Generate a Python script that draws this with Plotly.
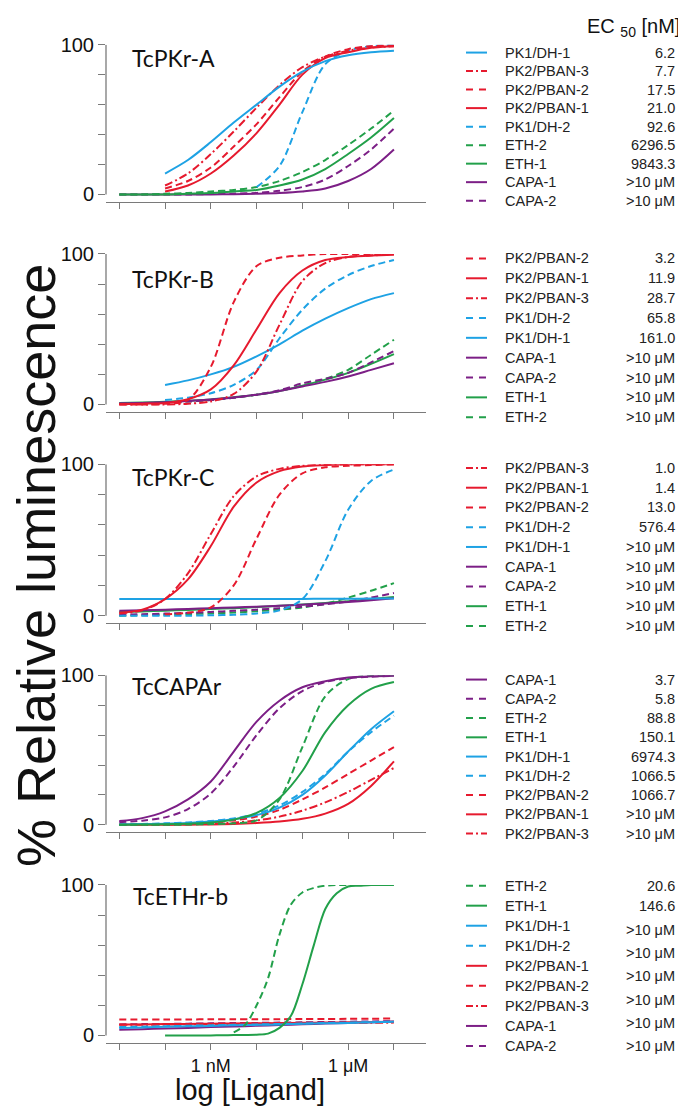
import plotly.graph_objects as go

# page body has an 8px margin: the figure is placed at (8, 8) in the window
PAGE_W, PAGE_H = 686, 1118
OFF = 8
W, H = PAGE_W - OFF, PAGE_H - OFF

# ---------------- data ----------------
log_conc = [-11, -10.5, -10, -9.5, -9, -8.5, -8, -7.5, -7, -6.5, -6, -5.5, -5]
log_conc_fine = [-10, -9.75, -9.5, -9.25, -9, -8.75, -8.5, -8.25, -8, -7.75, -7.5,
                 -7.25, -7, -6.75, -6.5, -6.25, -6, -5.75, -5.5, -5.25, -5]
N = None

tcpkr_a = {
    "PK1/DH-1":   [N, N, 14, 23, 35, 48, 60, 72, 82, 89, 93, 95, 96],
    "PK2/PBAN-3": [N, N, 6, 14, 27, 42, 58, 73, 85, 92, 96, 98, 99],
    "PK2/PBAN-2": [N, N, 4, 9, 18, 32, 47, 65, 82, 92, 97, 99, 99.5],
    "PK2/PBAN-1": [N, N, 2, 6, 14, 26, 41, 60, 80, 91, 95, 98, 99],
    "PK1/DH-2":   [N, N, N, N, N, N, 5, 19, 55, 87, 96, 99, 100],
    "ETH-2":      [0, 0, 0.5, 1, 2, 3, 5, 9, 15, 23, 33, 44, 56],
    "ETH-1":      [0, 0, 0, 0.5, 1, 2, 3, 6, 10, 17, 27, 38, 51],
    "CAPA-1":     [0, 0, 0, 0, 0, 0.2, 0.5, 1, 2, 4, 9, 17, 30],
    "CAPA-2":     [0, 0, 0, 0, 0.3, 0.6, 1, 2.5, 5, 10, 19, 30, 44],
}
tcpkr_a_ec50 = ["6.2", "7.7", "17.5", "21.0", "92.6", "6296.5", "9843.3", ">10 μM", ">10 μM"]

tcpkr_b = {
    "PK2/PBAN-2": [0, 0, 0.5, 3, 25, 68, 92, 97.5, 99, 100, 100, 100, 100],
    "PK2/PBAN-1": [0.3, 0.5, 1, 3.5, 10, 26, 50, 74, 89, 96, 98, 99, 99.5],
    "PK2/PBAN-3": [0, 0, 0, 0.5, 2, 7, 22, 53, 82, 94, 98, 99, 100],
    "PK1/DH-2":   [N, N, 3, 4.5, 7.5, 13, 23, 44, 63, 77, 86, 92, 96],
    "PK1/DH-1":   [N, N, 13, 16, 20, 25, 32, 40, 49, 57, 64, 70, 74],
    "CAPA-1":     [0.7, 1, 1.5, 2.3, 3.3, 4.7, 6.5, 9, 12, 15, 18.6, 23, 27.4],
    "CAPA-2":     [0.5, 0.8, 1.2, 2, 3, 4.5, 6.5, 9.5, 14, 17, 21, 28, 35.5],
    "ETH-1":      [1, 1.3, 1.8, 2.5, 3.3, 4.8, 6.5, 9, 12.5, 16.5, 21, 27, 33.5],
    "ETH-2":      [0.5, 0.8, 1.2, 2, 3, 4.5, 6.5, 9, 12.5, 17, 23, 33, 43],
}
tcpkr_b_ec50 = ["3.2", "11.9", "28.7", "65.8", "161.0", ">10 μM", ">10 μM", ">10 μM", ">10 μM"]

tcpkr_c = {
    "PK2/PBAN-3": [1.5, 3.5, 11, 28, 54, 79, 92, 97, 99, 99.7, 100, 100, 100],
    "PK2/PBAN-1": [2, 4, 11, 24, 46, 72, 88, 95.5, 98.5, 99.5, 100, 100, 100],
    "PK2/PBAN-2": [N, N, 1, 2, 5.5, 20, 51, 80, 94, 98, 99, 99.5, 100],
    "PK1/DH-2":   [0, 0, 0, 0, 0.3, 0.6, 1.5, 3.5, 11, 36, 70, 89, 96.5],
    "PK1/DH-1":   [11, 11, 11, 11, 11, 11, 11, 11.1, 11.1, 11.2, 11.2, 11.3, 11.4],
    "CAPA-1":     [3.3, 3.6, 4, 4.4, 5, 5.5, 6, 6.6, 7.3, 8.1, 9, 10.2, 11.6],
    "CAPA-2":     [0.7, 1, 1.4, 1.9, 2.5, 3.2, 4, 5, 6, 7.5, 9.4, 12, 15],
    "ETH-1":      [2.4, 2.8, 3.3, 3.8, 4.4, 5, 5.7, 6.5, 7.4, 8.4, 9.6, 11, 12.3],
    "ETH-2":      [0, 0.3, 0.6, 1, 1.5, 2.1, 3, 4, 5.5, 8, 12, 16.5, 21.5],
}
tcpkr_c_ec50 = ["1.0", "1.4", "13.0", "576.4", ">10 μM", ">10 μM", ">10 μM", ">10 μM", ">10 μM"]

tccapar = {
    "CAPA-1":     [2.5, 4.5, 9, 17, 29, 49, 69, 83, 92, 96, 98.5, 99.3, 99.7],
    "CAPA-2":     [1.8, 2.8, 5, 10.5, 21, 39, 60, 78, 89.5, 95.5, 98, 99.1, 99.6],
    "ETH-2":      [0, 0, 0, 0.2, 0.5, 1, 3, 17, 52, 86, 97.5, 99.5, 100],
    "ETH-1":      [0, 0.2, 0.4, 0.8, 1.5, 3.5, 8, 18, 36, 62, 80, 91, 95.5],
    "PK1/DH-1":   [0.3, 0.5, 0.8, 1.3, 2.2, 3.8, 6.5, 11.5, 20, 33, 49, 64, 76],
    "PK1/DH-2":   [0.3, 0.6, 1, 1.6, 2.6, 4.3, 7.5, 13, 22, 34, 49, 62, 73],
    "PK2/PBAN-2": [0, 0.2, 0.4, 0.8, 1.5, 3, 5.5, 10, 17, 25, 34, 43, 52],
    "PK2/PBAN-1": [0, 0, 0, 0.1, 0.3, 0.6, 1.2, 2.2, 4, 7.5, 14, 26, 42.5],
    "PK2/PBAN-3": [0, 0.1, 0.2, 0.4, 0.8, 1.5, 3, 5.5, 9.5, 15, 22, 30, 38],
}
tccapar_ec50 = ["3.7", "5.8", "88.8", "150.1", "6974.3", "1066.5", "1066.7", ">10 μM", ">10 μM"]

tcethr_b_fine = {
    "ETH-2": [N, N, N, N, N, N, 2, 7, 20, 38, 67, 87, 95, 98, 99.5, 100, 100, 100, 100, 100, 100],
    "ETH-1": [0, 0, 0, 0, 0, 0.1, 0.2, 0.3, 0.5, 1.2, 5, 13, 34, 60, 84, 94.5, 99, 99.5, 100, 100, 100],
}
tcethr_b = {
    "PK1/DH-1":   [5, 5.3, 5.7, 6, 6.3, 6.7, 7, 7.3, 7.7, 8, 8.3, 8.7, 9],
    "PK1/DH-2":   [5.5, 5.8, 6.1, 6.4, 6.7, 7, 7.3, 7.6, 7.9, 8.2, 8.5, 8.8, 9.1],
    "PK2/PBAN-1": [7.2, 7.3, 7.5, 7.6, 7.8, 7.9, 8.1, 8.2, 8.4, 8.5, 8.7, 8.8, 9],
    "PK2/PBAN-2": [10.5, 10.5, 10.6, 10.6, 10.7, 10.7, 10.8, 10.8, 10.9, 10.9, 11, 11.1, 11.2],
    "PK2/PBAN-3": [7, 7.1, 7.2, 7.4, 7.5, 7.6, 7.8, 7.9, 8, 8.2, 8.3, 8.4, 8.5],
    "CAPA-1":     [3.7, 4.1, 4.6, 5, 5.5, 5.9, 6.4, 6.9, 7.4, 7.9, 8.3, 8.8, 9.3],
    "CAPA-2":     [7.3, 7.5, 7.6, 7.8, 8, 8.2, 8.3, 8.5, 8.7, 8.9, 9.1, 9.3, 9.5],
}
tcethr_b_order = ["ETH-2", "ETH-1", "PK1/DH-1", "PK1/DH-2", "PK2/PBAN-1",
                  "PK2/PBAN-2", "PK2/PBAN-3", "CAPA-1", "CAPA-2"]
# the original lists only eight EC50 entries for this receptor
tcethr_b_ec50 = ["20.6", "146.6", ">10 μM", ">10 μM", ">10 μM", ">10 μM", ">10 μM", ">10 μM"]

panel_titles = ["TcPKr-A", "TcPKr-B", "TcPKr-C", "TcCAPAr", "TcETHr-b"]
x_tick_vals = [-11, -10, -9, -8, -7, -6, -5]
x_tick_text = ["", "", "1 nM", "", "", "1 μM", ""]

# ---------------- styles ----------------
COLORS = {"PK1/DH": "#1ea2e4", "PK2/PBAN": "#e61a2e", "ETH": "#22a04a", "CAPA": "#7c1f86"}
DASHES = {"1": "solid", "2": "7px,4px", "3": "8px,3px,2px,3px"}
LEG_DASHES = {"1": "solid", "2": "7px,6px", "3": "7px,3px,2px,3px"}
AXC = "#7a7a7a"
ARIAL = "Liberation Sans, Arial, sans-serif"


def style(name):
    fam, idx = name.rsplit("-", 1)
    return COLORS[fam], DASHES[idx], LEG_DASHES[idx]


def yp(px):
    return 1 - (px - OFF) / H


def xp(px):
    return (px - OFF) / W


# panel geometry in window pixels: (top of 100, x-axis line)
panel_px = [(34, 193.3), (246, 406), (459, 620), (672.7, 831.7), (885, 1045)]
title_px = [(130, 47.5), (130, 271.5), (130, 471.5), (130, 683.5), (131, 896.5)]
legend_rows = [(42, 18.75), (250.5, 20.1), (462.7, 20.0), (677, 19.5), (885.7, 20.3)]

fig = go.Figure()

panels = [
    (list(tcpkr_a.keys()), tcpkr_a, {}, tcpkr_a_ec50),
    (list(tcpkr_b.keys()), tcpkr_b, {}, tcpkr_b_ec50),
    (list(tcpkr_c.keys()), tcpkr_c, {}, tcpkr_c_ec50),
    (list(tccapar.keys()), tccapar, {}, tccapar_ec50),
    (tcethr_b_order, tcethr_b, tcethr_b_fine, tcethr_b_ec50),
]

annotations = []
shapes = []
layout_axes = {}

for k, (order, coarse, fine, ec50) in enumerate(panels, start=1):
    sfx = "" if k == 1 else str(k)
    top, bot = panel_px[k - 1]
    for name in reversed(order):
        color, dash, _ = style(name)
        if name in fine:
            xs, ys = log_conc_fine, fine[name]
        else:
            xs, ys = log_conc, coarse[name]
        fig.add_trace(go.Scatter(
            x=xs, y=ys, mode="lines", name=name, showlegend=False,
            line=dict(color=color, width=2, dash=dash, shape="spline", smoothing=0.9),
            xaxis="x" + sfx, yaxis="y" + sfx, connectgaps=False, hoverinfo="skip"))

    layout_axes["xaxis" + sfx] = dict(
        domain=[xp(106), xp(426)], range=[-11.29, -4.30], anchor="y" + sfx,
        showline=True, linecolor=AXC, linewidth=1.3, ticks="outside", ticklen=6,
        tickcolor=AXC, tickwidth=1.2, tickvals=x_tick_vals,
        ticktext=x_tick_text if k == 5 else [""] * len(x_tick_vals),
        tickfont=dict(family=ARIAL, size=18, color="#111"),
        showgrid=False, zeroline=False, fixedrange=True)
    layout_axes["yaxis" + sfx] = dict(
        domain=[yp(bot), yp(top)], range=[-5, 100], anchor="x" + sfx,
        showline=False, ticks="outside", ticklen=7, tickcolor=AXC, tickwidth=1.2,
        tickvals=[0, 20, 40, 60, 80, 100], ticktext=["0", "", "", "", "", "100"],
        tickfont=dict(family=ARIAL, size=20, color="#111"),
        showgrid=False, zeroline=False, fixedrange=True)
    shapes.append(dict(type="line", xref="x" + sfx + " domain", yref="y" + sfx,
                       x0=0, x1=0, y0=0, y1=100, line=dict(color=AXC, width=1.3)))

    tx, ty = title_px[k - 1]
    annotations.append(dict(text=panel_titles[k - 1], x=xp(tx), y=yp(ty), xref="paper", yref="paper",
                            xanchor="left", yanchor="middle", showarrow=False,
                            font=dict(family="Lato, sans-serif", size=23, color="#111")))

    y0, dy = legend_rows[k - 1]
    for i, name in enumerate(order):
        color, _, ldash = style(name)
        ry = y0 + dy * i
        shapes.append(dict(type="line", xref="paper", yref="paper",
                           x0=xp(466), x1=xp(487), y0=yp(ry), y1=yp(ry),
                           line=dict(color=color, width=2, dash=ldash)))
        annotations.append(dict(text=name, x=xp(503), y=yp(ry), xref="paper", yref="paper",
                                xanchor="left", yanchor="middle", showarrow=False,
                                font=dict(family=ARIAL, size=14.5, color="#222")))
    for i, val in enumerate(ec50):
        vy = y0 + dy * i
        if k == 5 and i >= 2:
            vy = 930.7 + 23.5 * (i - 2)
        annotations.append(dict(text=val, x=xp(677), y=yp(vy), xref="paper", yref="paper",
                                xanchor="right", yanchor="middle", showarrow=False,
                                font=dict(family=ARIAL, size=14.5, color="#222")))

annotations.append(dict(text="EC <sub>50</sub> [nM]", x=xp(682), y=yp(17), xref="paper", yref="paper",
                        xanchor="right", yanchor="middle", showarrow=False,
                        font=dict(family=ARIAL, size=20, color="#111")))
annotations.append(dict(text="% Relative luminescence", x=xp(36), y=yp(562), xref="paper", yref="paper",
                        xanchor="center", yanchor="middle", textangle=-90, showarrow=False,
                        font=dict(family=ARIAL, size=54, color="#111")))
annotations.append(dict(text="log [Ligand]", x=xp(250), y=yp(1093), xref="paper", yref="paper",
                        xanchor="center", yanchor="middle", showarrow=False,
                        font=dict(family=ARIAL, size=29, color="#111")))

fig.update_layout(
    width=W, height=H, margin=dict(l=0, r=0, t=0, b=0),
    paper_bgcolor="white", plot_bgcolor="white", showlegend=False,
    annotations=annotations, shapes=shapes, **layout_axes)

fig.write_html("out.html")
